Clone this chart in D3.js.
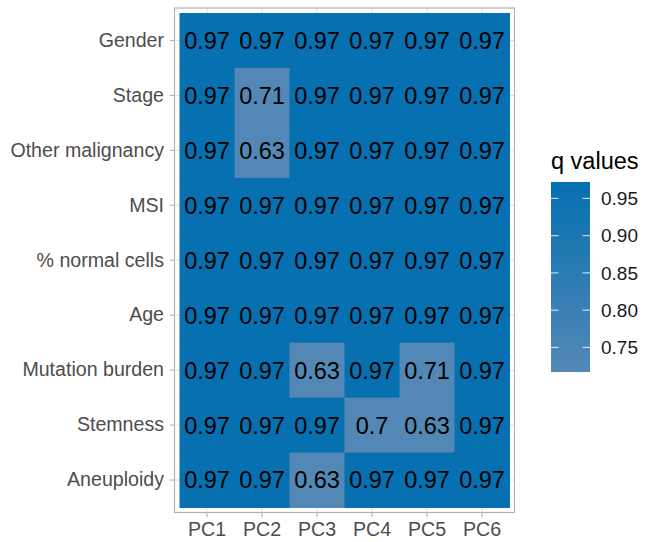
<!DOCTYPE html>
<html>
<head>
<meta charset="utf-8">
<script src="https://cdn.jsdelivr.net/npm/d3@7"></script>
<style>
  html, body { margin: 0; padding: 0; background: #fff; }
  svg { display: block; font-family: "Liberation Sans", Arial, Helvetica, sans-serif; }
</style>
</head>
<body>
<svg id="chart" width="655" height="542"></svg>
<script>
// Principal components (columns) and clinical covariates (rows, top to bottom)
const components = ["PC1", "PC2", "PC3", "PC4", "PC5", "PC6"];
const covariates = ["Gender", "Stage", "Other malignancy", "MSI", "% normal cells",
                    "Age", "Mutation burden", "Stemness", "Aneuploidy"];

// q values, one array per covariate, in component order
const qGender          = [0.97, 0.97, 0.97, 0.97, 0.97, 0.97];
const qStage           = [0.97, 0.71, 0.97, 0.97, 0.97, 0.97];
const qOtherMalignancy = [0.97, 0.63, 0.97, 0.97, 0.97, 0.97];
const qMSI             = [0.97, 0.97, 0.97, 0.97, 0.97, 0.97];
const qNormalCells     = [0.97, 0.97, 0.97, 0.97, 0.97, 0.97];
const qAge             = [0.97, 0.97, 0.97, 0.97, 0.97, 0.97];
const qMutationBurden  = [0.97, 0.97, 0.63, 0.97, 0.71, 0.97];
const qStemness        = [0.97, 0.97, 0.97, 0.70, 0.63, 0.97];
const qAneuploidy      = [0.97, 0.97, 0.63, 0.97, 0.97, 0.97];

const qRows = [qGender, qStage, qOtherMalignancy, qMSI, qNormalCells,
               qAge, qMutationBurden, qStemness, qAneuploidy];

// Colour bar range and its labelled breaks
const colourLimits = [0.717, 0.972];
const legendBreaks = [0.75, 0.80, 0.85, 0.90, 0.95];

const cells = [];
covariates.forEach((cov, i) => {
  components.forEach((pc, j) => cells.push({ cov, pc, q: qRows[i][j] }));
});

const svg = d3.select("#chart");

const panel = { x0: 174, x1: 515, y0: 7.5, y1: 513 };

const x = d3.scaleBand().domain(components).range([panel.x0, panel.x1])
  .paddingInner(0).paddingOuter(0.1);
const y = d3.scaleBand().domain(covariates).range([panel.y0, panel.y1])
  .paddingInner(0).paddingOuter(0.1);

const colour = d3.scaleLinear().domain(colourLimits)
  .range(["#5388B6", "#0570B0"]).clamp(true);

// Panel background and grid
svg.append("rect")
  .attr("x", panel.x0).attr("y", panel.y0)
  .attr("width", panel.x1 - panel.x0).attr("height", panel.y1 - panel.y0)
  .attr("fill", "#fff");

const grid = svg.append("g").attr("stroke", "#DEDEDE").attr("stroke-width", 1);
components.forEach(c => {
  const cx = x(c) + x.bandwidth() / 2;
  grid.append("line").attr("x1", cx).attr("x2", cx)
    .attr("y1", panel.y0).attr("y2", panel.y1);
});
covariates.forEach(c => {
  const cy = y(c) + y.bandwidth() / 2;
  grid.append("line").attr("y1", cy).attr("y2", cy)
    .attr("x1", panel.x0).attr("x2", panel.x1);
});

// Tiles
svg.append("g").selectAll("rect").data(cells).join("rect")
  .attr("x", d => x(d.pc))
  .attr("y", d => y(d.cov))
  .attr("width", x.bandwidth() + 0.5)
  .attr("height", y.bandwidth() + 0.5)
  .attr("fill", d => colour(d.q));

// Tile value labels
svg.append("g").selectAll("text").data(cells).join("text")
  .attr("x", d => x(d.pc) + x.bandwidth() / 2)
  .attr("y", d => y(d.cov) + y.bandwidth() / 2)
  .attr("dy", "0.36em")
  .attr("text-anchor", "middle")
  .attr("font-size", 23.5)
  .attr("fill", "#000")
  .text(d => String(d.q));

// Panel border
svg.append("rect")
  .attr("x", panel.x0 + 0.5).attr("y", panel.y0 + 0.5)
  .attr("width", panel.x1 - panel.x0 - 1).attr("height", panel.y1 - panel.y0 - 1)
  .attr("fill", "none").attr("stroke", "#B3B3B3").attr("stroke-width", 1.2);

// Axes
const xAxis = svg.append("g")
  .attr("transform", `translate(0,${panel.y1})`)
  .call(d3.axisBottom(x).tickSize(4).tickPadding(5));
const yAxis = svg.append("g")
  .attr("transform", `translate(${panel.x0},0)`)
  .call(d3.axisLeft(y).tickSize(4).tickPadding(6));

[xAxis, yAxis].forEach(a => {
  a.select(".domain").remove();
  a.selectAll(".tick line").attr("stroke", "#B3B3B3").attr("stroke-width", 1.1);
  a.selectAll(".tick text")
    .attr("fill", "#4D4D4D")
    .attr("font-size", 19.6)
    .attr("font-family", "\"Liberation Sans\", Arial, Helvetica, sans-serif");
});

// Colour bar legend
const bar = { x: 551, w: 39, top: 182, bottom: 372 };
const legendY = d3.scaleLinear().domain(colourLimits).range([bar.bottom, bar.top]);

const defs = svg.append("defs");
const grad = defs.append("linearGradient").attr("id", "qgrad")
  .attr("x1", 0).attr("y1", 1).attr("x2", 0).attr("y2", 0);
d3.range(0, 1.0001, 0.1).forEach(t => {
  const v = colourLimits[0] + t * (colourLimits[1] - colourLimits[0]);
  grad.append("stop").attr("offset", t).attr("stop-color", colour(v));
});

svg.append("text")
  .attr("x", bar.x).attr("y", 169)
  .attr("font-size", 23.5)
  .attr("fill", "#000")
  .text("q values");

svg.append("rect")
  .attr("x", bar.x).attr("y", bar.top)
  .attr("width", bar.w).attr("height", bar.bottom - bar.top)
  .attr("fill", "url(#qgrad)");

const legendTicks = svg.append("g");
legendBreaks.forEach(b => {
  const ty = legendY(b);
  legendTicks.append("line")
    .attr("x1", bar.x).attr("x2", bar.x + 7.5).attr("y1", ty).attr("y2", ty)
    .attr("stroke", "#fff").attr("stroke-opacity", 0.8).attr("stroke-width", 1.1);
  legendTicks.append("line")
    .attr("x1", bar.x + bar.w - 7.5).attr("x2", bar.x + bar.w).attr("y1", ty).attr("y2", ty)
    .attr("stroke", "#fff").attr("stroke-opacity", 0.8).attr("stroke-width", 1.1);
  legendTicks.append("text")
    .attr("x", 601).attr("y", ty).attr("dy", "0.36em")
    .attr("font-size", 19)
    .attr("fill", "#1a1a1a")
    .text(d3.format(".2f")(b));
});
</script>
</body>
</html>
